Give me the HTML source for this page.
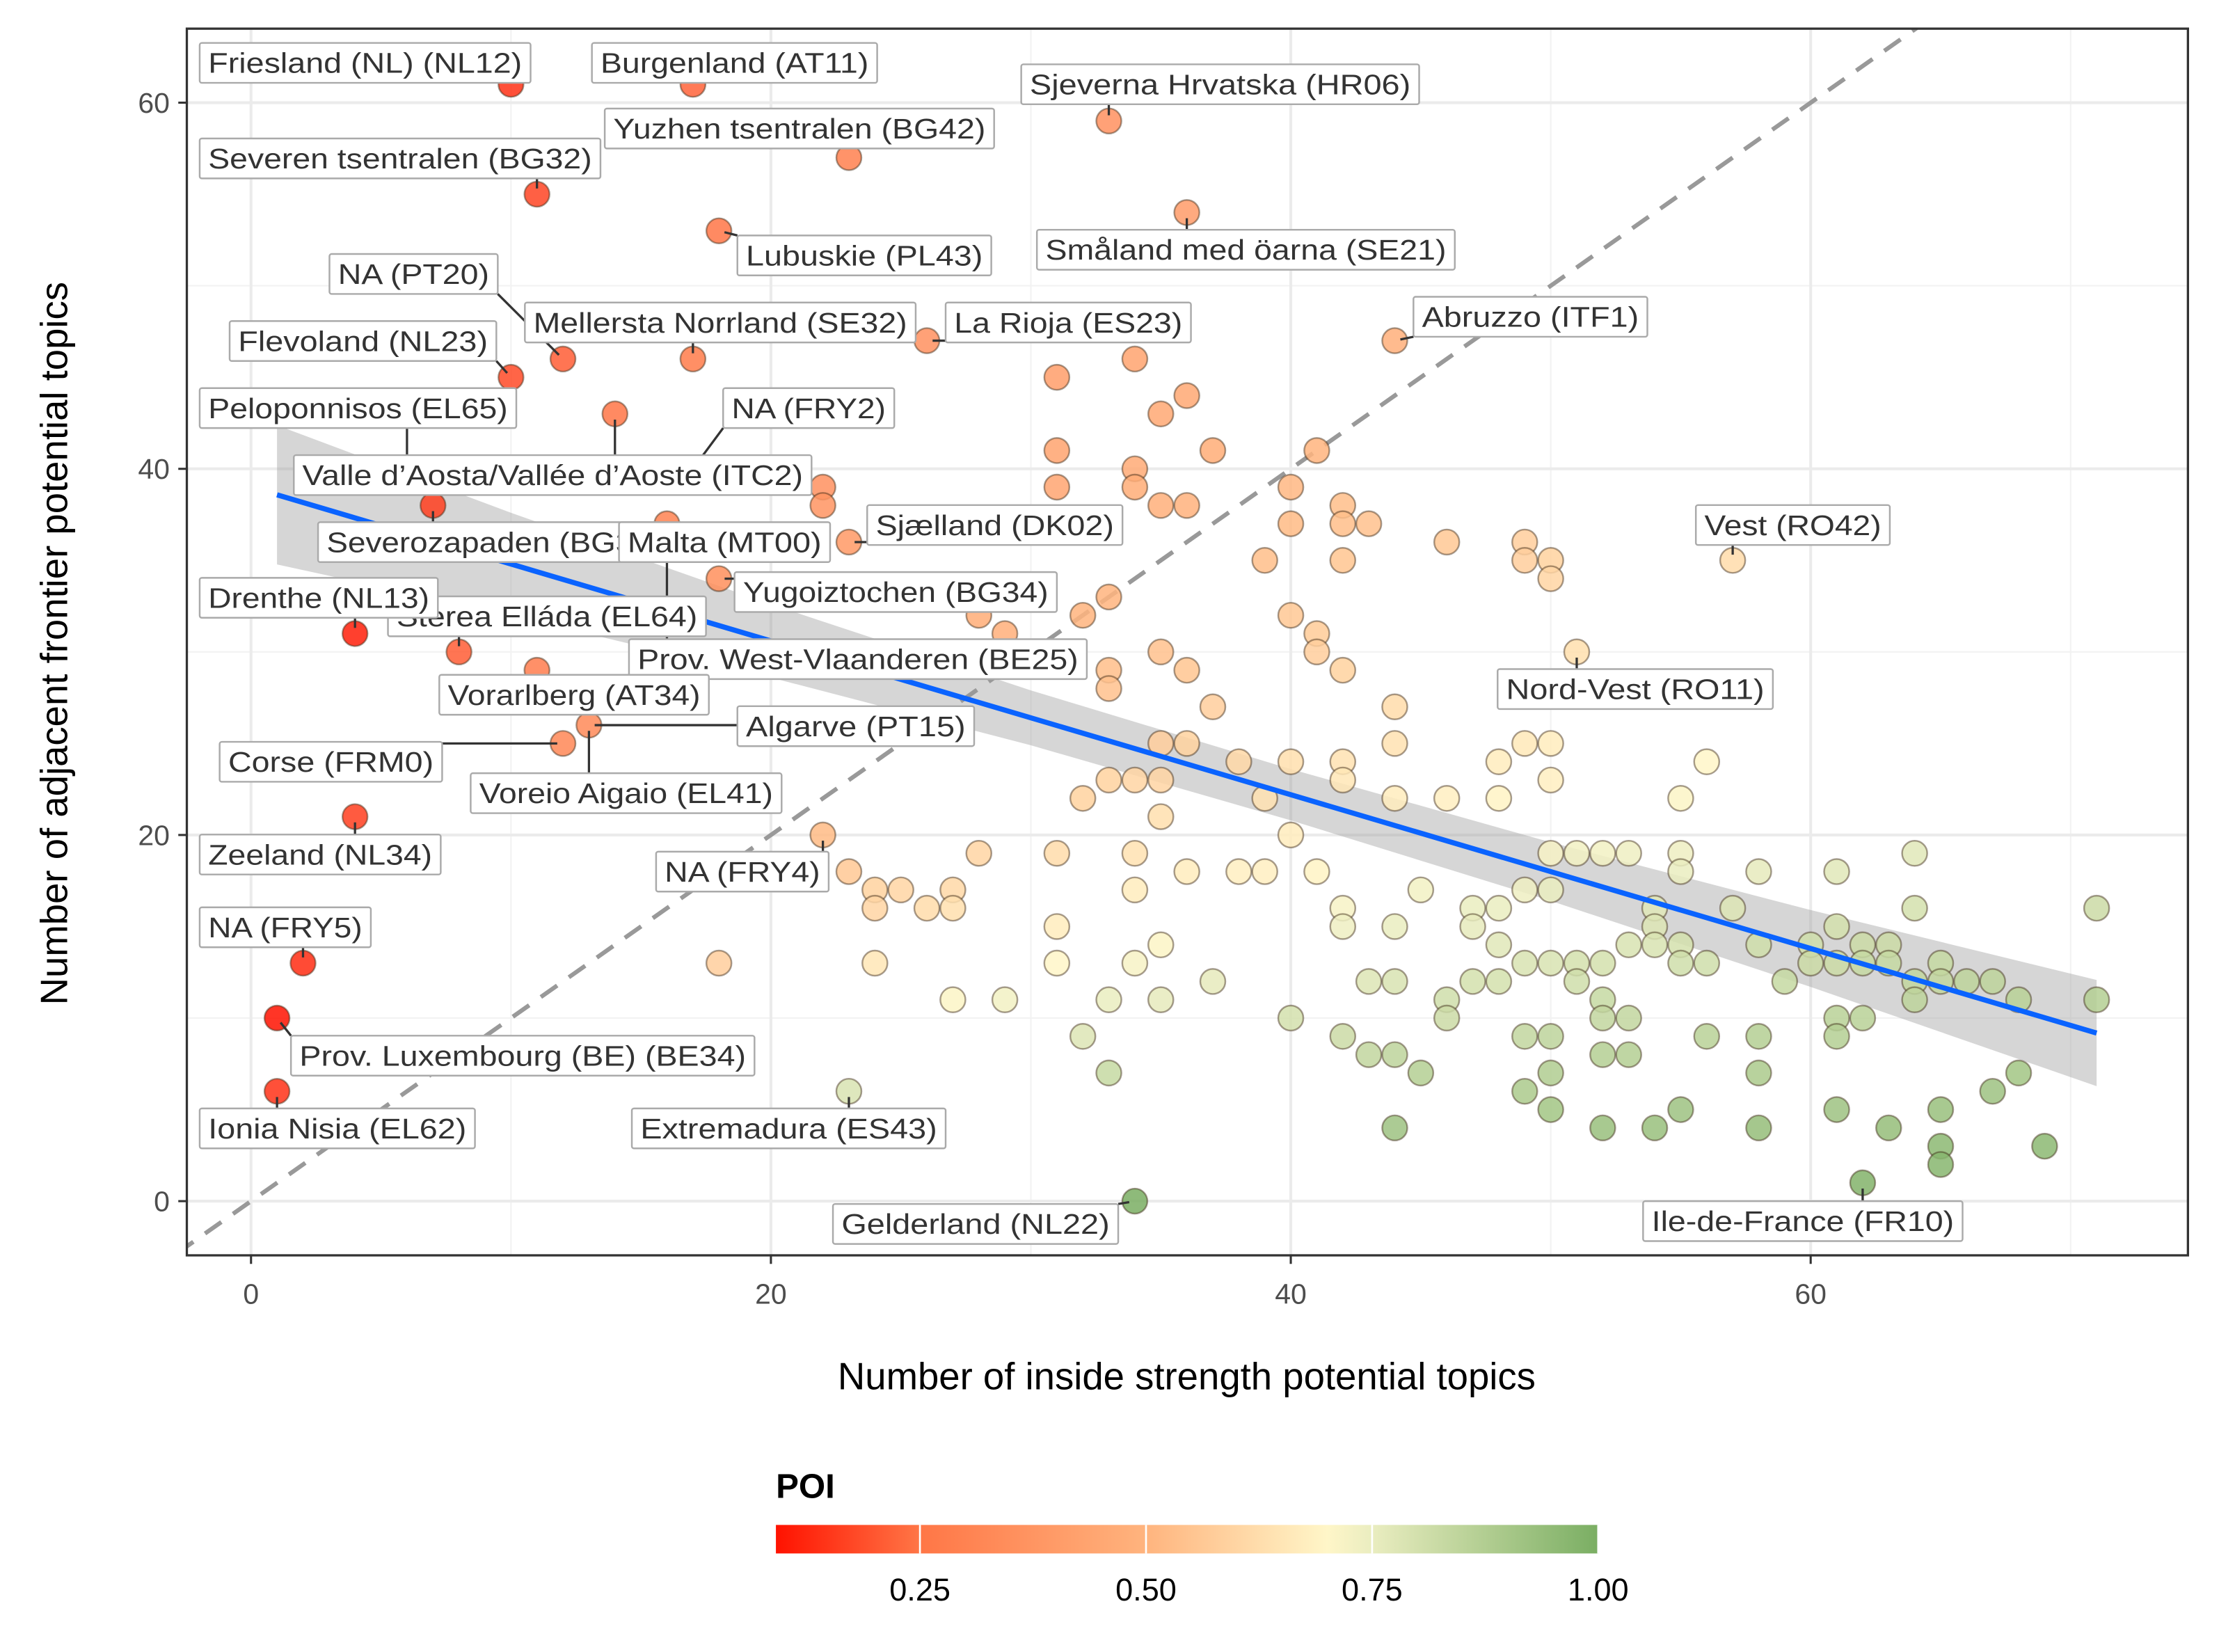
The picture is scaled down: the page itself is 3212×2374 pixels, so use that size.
<!DOCTYPE html>
<html><head><meta charset="utf-8"><style>
html,body{margin:0;padding:0;background:#fff}
svg{display:block}
text{font-family:"Liberation Sans",Arial,sans-serif}
</style></head><body>
<svg id="chart" xmlns="http://www.w3.org/2000/svg" width="3212" height="2374" viewBox="0 0 1567 1158">
<rect width="1567" height="1158" fill="#fff"/>
<g id="plot"></g>
<text x="832" y="974" font-size="26.6" text-anchor="middle" fill="#000">Number of inside strength potential topics</text>
<text transform="translate(47,451) rotate(-90)" font-size="26.6" text-anchor="middle" fill="#000">Number of adjacent frontier potential topics</text>
<g id="legend"></g>
</svg>
<script>
const xs=[10,17,33,23,11,18,36,26,44,10,12,17,14,17,6,7,22,22,16,23,18,4,8,11,13,12,4,22,2,1,1,23,34,62,57,51,
31,34,35,36,31,31,34,34,37,41,35,36,40,40,42,42,43,39,42,46,49,49,50,50,33,32,28,29,30,40,41,41,42,35,36,33,33,37,44,35,36,44,38,40,42,42,48,49,50,50,56,33,34,35,32,39,44,46,48,55,35,40,28,31,34,50,51,52,53,55,64,23,36,38,39,41,55,61,58,24,25,27,34,45,49,50,24,26,27,42,47,48,54,57,64,71,31,42,44,47,54,61,48,35,53,54,55,58,60,62,63,18,24,31,34,49,50,51,52,55,56,60,61,62,63,65,37,43,44,47,48,51,59,64,65,66,67,27,29,33,35,46,52,64,68,71,40,46,52,53,61,62,32,42,49,50,56,58,61,43,44,52,53,33,45,50,58,68,49,67,50,55,61,65,44,52,54,58,63,65,69,65];
const ys=[61,61,59,57,55,53,54,47,47,45,46,46,43,40,40,38,39,38,37,36,34,31,30,29,26,25,21,20,13,10,6,6,0,1,35,30,
45,46,43,44,41,39,40,39,41,41,38,38,39,37,38,37,37,35,35,36,36,35,35,34,33,32,32,31,30,32,31,30,29,30,29,29,28,27,27,25,25,25,24,24,24,23,24,25,25,23,24,23,23,23,22,22,22,22,22,22,21,20,19,19,19,19,19,19,19,19,19,18,18,18,18,18,18,18,18,17,17,17,17,17,17,17,16,16,16,16,16,16,16,16,16,16,15,15,15,15,15,15,14,14,14,14,14,14,14,14,14,13,13,13,13,13,13,13,13,13,13,13,13,13,13,13,12,12,12,12,12,12,12,12,12,12,12,11,11,11,11,11,11,11,11,11,10,10,10,10,10,10,9,9,9,9,9,9,9,8,8,8,8,7,7,7,7,7,6,6,5,5,5,5,4,4,4,4,4,3,3,2];
const pois=[.14,.22,.36,.29,.17,.25,.40,.36,.48,.18,.21,.27,.25,.30,.13,.16,.36,.37,.30,.39,.35,.11,.21,.28,.33,.32,.16,.52,.13,.09,.14,.79,1.0,.98,.62,.63,
.41,.43,.45,.45,.43,.44,.46,.47,.47,.50,.48,.49,.51,.52,.53,.53,.54,.53,.55,.56,.58,.58,.59,.60,.50,.50,.47,.48,.50,.56,.57,.58,.59,.54,.55,.53,.54,.58,.62,.58,.59,.64,.61,.63,.64,.65,.67,.66,.67,.68,.70,.59,.60,.60,.59,.64,.67,.68,.69,.71,.63,.67,.60,.62,.64,.72,.73,.73,.74,.74,.77,.56,.67,.68,.68,.69,.75,.77,.76,.59,.60,.61,.67,.73,.74,.75,.60,.62,.63,.72,.75,.75,.77,.78,.80,.82,.67,.74,.75,.76,.78,.80,.77,.71,.79,.79,.80,.81,.81,.82,.82,.58,.65,.70,.72,.79,.79,.80,.80,.81,.81,.82,.82,.83,.83,.83,.76,.78,.79,.80,.80,.81,.83,.84,.84,.85,.85,.71,.73,.75,.76,.81,.83,.85,.86,.87,.80,.82,.84,.84,.86,.86,.78,.82,.84,.85,.86,.87,.87,.84,.85,.87,.87,.83,.87,.88,.89,.91,.89,.92,.91,.92,.92,.93,.92,.93,.93,.94,.94,.96,.96,.97];
const xTicks=[0,20,40,60];
const yTicks=[0,20,40,60];
const fitIntercept=39.0, fitSlope=-0.42;
const bandX=[1,10,20,30,40,50,60,71];
const bandHalf=[3.8,2.8,2.0,1.5,1.4,1.6,2.1,2.9];
const legendTicks=[0.25,0.50,0.75,1.00];
const legendLabels=["0.25","0.50","0.75","1.00"];
const labels=[
["Friesland (NL) (NL12)",140,30,372,10,61],["Burgenland (AT11)",415,30,615,17,61],
["Sjeverna Hrvatska (HR06)",716,45,995,33,59],["Yuzhen tsentralen (BG42)",424,76,697,23,57],
["Severen tsentralen (BG32)",140,97,421,11,55],["Lubuskie (PL43)",517,165,695,18,53],
["Småland med öarna (SE21)",727,161,1020,36,54],["NA (PT20)",231,178,349,12,46],
["Mellersta Norrland (SE32)",368,212,642,17,46],["La Rioja (ES23)",663,212,835,26,47],
["Abruzzo (ITF1)",991,208,1155,44,47],["Flevoland (NL23)",161,225,348,10,45],
["Peloponnisos (EL65)",140,272,362,6,40],["NA (FRY2)",507,272,627,17,40],
["Valle d’Aosta/Vallée d’Aoste (ITC2)",206,319,569,14,43],["Severozapaden (BG32)",223,366,470,7,38],
["Malta (MT00)",434,366,582,16,37],["Sjælland (DK02)",608,354,787,23,36],
["Yugoiztochen (BG34)",515,401,741,18,34],["Sterea Elláda (EL64)",272,418,495,8,30],
["Drenthe (NL13)",140,405,307,4,31],["Prov. West-Vlaanderen (BE25)",441,448,762,16,37],
["Nord-Vest (RO11)",1050,469,1243,51,30],["Vorarlberg (AT34)",308,473,497,11,29],
["Algarve (PT15)",517,495,683,13,26],["Corse (FRM0)",154,520,310,12,25],
["Voreio Aigaio (EL41)",330,542,548,13,26],["Zeeland (NL34)",140,585,309,4,21],
["NA (FRY4)",460,597,581,22,20],["NA (FRY5)",140,636,260,2,13],
["Prov. Luxembourg (BE) (BE34)",204,726,529,1,10],["Ionia Nisia (EL62)",140,777,333,1,6],
["Extremadura (ES43)",443,777,663,23,6],["Gelderland (NL22)",584,844,784,34,0],
["Ile-de-France (FR10)",1152,842,1376,62,1],["Vest (RO42)",1189,354,1325,57,35]
];
const NS="http://www.w3.org/2000/svg";
const L=131,R=1534,T=20,B=880;
const sx=v=>176+v*18.225, sy=v=>842-v*12.835;
const stops=[[0.09,[255,18,0]],[0.25,[255,118,70]],[0.5,[255,180,126]],[0.7,[255,246,200]],[0.75,[234,237,192]],[1.0,[122,174,99]]];
function col(p){p=Math.max(0.09,Math.min(1,p));for(let i=1;i<stops.length;i++){if(p<=stops[i][0]){const a=stops[i-1],b=stops[i],t=(p-a[0])/(b[0]-a[0]);const c=a[1].map((v,k)=>Math.round(v+(b[1][k]-v)*t));return `rgb(${c})`;}}return 'rgb(122,174,99)';}
function el(tag,attrs,parent){const e=document.createElementNS(NS,tag);for(const k in attrs)e.setAttribute(k,attrs[k]);parent.appendChild(e);return e;}
const plot=document.getElementById('plot');
const defs=el('defs',{},plot);
const cp=el('clipPath',{id:'clip'},defs);el('rect',{x:L,y:T,width:R-L,height:B-T},cp);
const bg=el('rect',{x:L,y:T,width:R-L,height:B-T,fill:'#fff'},plot);


[-10,10,30,50,70].forEach(v=>{if(sx(v)>L&&sx(v)<R)el('line',{x1:sx(v),x2:sx(v),y1:T,y2:B,stroke:'#f2f2f2','stroke-width':1},plot);});
[10,30,50].forEach(v=>el('line',{x1:L,x2:R,y1:sy(v),y2:sy(v),stroke:'#f2f2f2','stroke-width':1},plot));
xTicks.forEach(v=>{const g=el('line',{x1:sx(v),x2:sx(v),y1:T,y2:B,stroke:'#ebebeb','stroke-width':2},plot);});
yTicks.forEach(v=>{const g=el('line',{x1:L,x2:R,y1:sy(v),y2:sy(v),stroke:'#ebebeb','stroke-width':2},plot);});
const inner=el('g',{'clip-path':'url(#clip)'},plot);
let pts=bandX.map((x,i)=>`${sx(x)},${sy(fitIntercept+fitSlope*x+bandHalf[i])}`);
pts=pts.concat(bandX.slice().reverse().map((x,j)=>{const i=bandX.length-1-j;return `${sx(x)},${sy(fitIntercept+fitSlope*x-bandHalf[i])}`;}));
const band=el('polygon',{points:pts.join(' '),fill:'#999','fill-opacity':0.4},inner);


const diag=el('line',{x1:sx(-5),y1:sy(-5),x2:sx(70),y2:sy(70),stroke:'#999','stroke-width':3,'stroke-dasharray':'14,10'},inner);


for(let i=0;i<xs.length;i++){
 const c=el('circle',{cx:sx(xs[i]),cy:sy(ys[i]),r:8.8,fill:col(pois[i]),'fill-opacity':0.85,stroke:'rgba(60,40,20,0.45)','stroke-width':1.2},inner);
 
 
}
const fit=el('line',{x1:sx(bandX[0]),y1:sy(fitIntercept+fitSlope*bandX[0]),x2:sx(bandX[bandX.length-1]),y2:sy(fitIntercept+fitSlope*bandX[bandX.length-1]),stroke:'#0a63ff','stroke-width':3.6},inner);


const lg=el('g',{},plot);
labels.forEach(l=>{
 const [t,x0,y0,x1,dx,dy]=l;const px=sx(dx),py=sy(dy),y1=y0+28;
 const cx=Math.max(x0,Math.min(x1,px)),cy=Math.max(y0,Math.min(y1,py));
 const d=Math.hypot(px-cx,py-cy);
 if(d>10){const ln=el('line',{x1:cx,y1:cy,x2:px-(px-cx)/d*4,y2:py-(py-cy)/d*4,stroke:'#333','stroke-width':1.6},lg);}
});
labels.forEach(l=>{
 const [t,x0,y0,x1]=l;
 const g=el('g',{},lg);
 
 
 el('rect',{x:x0,y:y0,width:x1-x0,height:28,fill:'#fff',stroke:'#aaa','stroke-width':1.2,rx:1.5},g);
 const tx=el('text',{x:(x0+x1)/2,y:y0+21,'font-size':20,'text-anchor':'middle',fill:'#333',textLength:x1-x0-12,lengthAdjust:'spacingAndGlyphs'},g);
 tx.textContent=t;
});
const border=el('rect',{x:L,y:T,width:R-L,height:B-T,fill:'none',stroke:'#333','stroke-width':1.6},plot);


xTicks.forEach(v=>{el('line',{x1:sx(v),x2:sx(v),y1:B,y2:B+6,stroke:'#333','stroke-width':1.5},plot);const t=el('text',{x:sx(v),y:B+34,'font-size':20,'text-anchor':'middle',fill:'#4d4d4d'},plot);t.textContent=v;});
yTicks.forEach(v=>{el('line',{x1:L-6,x2:L,y1:sy(v),y2:sy(v),stroke:'#333','stroke-width':1.5},plot);const t=el('text',{x:L-12,y:sy(v)+7,'font-size':20,'text-anchor':'end',fill:'#4d4d4d'},plot);t.textContent=v;});
const leg=document.getElementById('legend');
const lx=p=>645+(p-0.25)*634;
const gr=el('linearGradient',{id:'lgrad',x1:0,x2:1,y1:0,y2:0},defs);
stops.forEach(s=>el('stop',{offset:((lx(s[0])-544)/(1121-544)).toFixed(4),'stop-color':`rgb(${s[1]})`},gr));
const tt=el('text',{x:544,y:1050,'font-size':24,'font-weight':'bold',fill:'#000'},leg);tt.textContent='POI';


const bar=el('rect',{x:544,y:1069,width:577,height:20,fill:'url(#lgrad)'},leg);


legendTicks.forEach((v,i)=>{el('line',{x1:lx(v),x2:lx(v),y1:1069,y2:1089,stroke:'#fff','stroke-width':1.3},leg);const t=el('text',{x:lx(v),y:1122,'font-size':22,'text-anchor':'middle',fill:'#000'},leg);t.textContent=legendLabels[i];});
</script>
</body></html>
